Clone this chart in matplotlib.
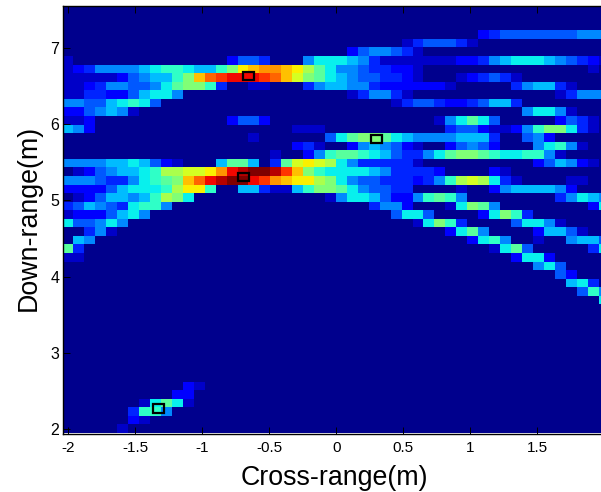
import numpy as np
import matplotlib
matplotlib.use("Agg")
import matplotlib.pyplot as plt
from matplotlib.patches import Rectangle

plt.rcParams['font.family'] = ['Liberation Sans', 'DejaVu Sans']

n_cols = 50
n_rows = 50
cross_range = np.linspace(-2, 2, n_cols)
down_range = np.linspace(7.5, 2, n_rows)

# Intensity levels, base-36 digits 0..k (k = peak).
# Each row (counted from the top): {first column: levels}
intensity_rows = {
    3: {38: "234444444555"},
    4: {31: "1344431"},
    5: {26: "2455431"},
    6: {0: "1", 15: "2443", 22: "5777653111111122356777654321"},
    7: {0: "123555567887668adeffedb9755433221", 48: "1"},
    8: {0: "11111245668aeghiiihgeca976544" "3321", 36: "123431"},
    9: {0: "1123554457" "9aa83" "0011", 22: "3566553222222" "1", 41: "356631"},
    10: {0: "11332246775", 26: "135531", 45: "13555"},
    11: {0: "554467874", 30: "134432234663"},
    12: {0: "2245651", 42: "57751"},
    13: {0: "112", 15: "2442", 34: "157974", 45: "2431"},
    14: {0: "652", 21: "111", 35: "3442112" "58aa731"},
    15: {17: "1", 24: "479aa97" "65555666" "3" "00" "452"},
    16: {21: "231", 26: "2565421", 35: "24542", 43: "57851"},
    17: {19: "1", 22: "258" "998764335" "79aa98778851"},
    18: {0: "55556676421", 14: "6996", 19: "39cdcb", 25: "75333331", 43: "246521"},
    19: {0: "0124566" "78bbccdf" "ijkkjhea87" "7776533332", 39: "21"},
    20: {0: "5554335" "789ae" "gijkk" "ihfeddba" "75443332" "358bcb731", 46: "11"},
    21: {0: "2222467778bdd8" "00663116" "8aa97" "54433", 36: "1", 39: "25666652"},
    22: {0: "012466568ba7", 24: "1577642258985", 45: "35765"},
    23: {0: "3465437885", 28: "3552", 35: "17a95", 48: "27"},
    24: {0: "12224675", 30: "4774", 38: "27a83"},
    25: {0: "744575", 32: "17a83", 41: "47751"},
    26: {2: "351", 35: "2795", 43: "26641"},
    27: {1: "65", 37: "2785", 43: "1", 46: "5664"},
    28: {0: "93", 39: "1794", 48: "37"},
    29: {0: "11", 41: "2772"},
    30: {43: "574"},
    31: {45: "42"},
    32: {46: "673"},
    33: {47: "485"},
    34: {49: "7"},
    44: {11: "21"},
    45: {10: "22"},
    46: {7: "17971"},
    47: {6: "3885"},
    48: {6: "21"},
    49: {5: "1"},
}

# Detected targets (cross-range, down-range)
target_x = [-0.652, -0.69, 0.304, -1.325]
target_y = [6.634, 5.307, 5.806, 2.27]

x_ticks = [-2, -1.5, -1, -0.5, 0, 0.5, 1, 1.5, 2]
x_tick_labels = ["-2", "-1.5", "-1", "-0.5", "0", "0.5", "1", "1.5", "2"]
y_ticks = [2, 3, 4, 5, 6, 7]
y_tick_labels = ["2", "3", "4", "5", "6", "7"]

intensity = np.zeros((n_rows, n_cols))
for row, segments in intensity_rows.items():
    for start, levels in segments.items():
        for k, ch in enumerate(levels):
            intensity[row, start + k] = int(ch, 36)

W, H = 601, 492
fig = plt.figure(figsize=(W / 100, H / 100), dpi=100)
left, right, top, bottom = 63.3, 608.0, 6.0, 434.0
ax = fig.add_axes([left / W, 1 - bottom / H, (right - left) / W, (bottom - top) / H])

dx = cross_range[1] - cross_range[0]
dy = down_range[0] - down_range[1]
ax.imshow(intensity, cmap="jet", vmin=-0.3, vmax=20, aspect="auto",
          interpolation="nearest", origin="upper",
          extent=[cross_range[0] - dx / 2, cross_range[-1] + dx / 2,
                  down_range[-1] - dy / 2, down_range[0] + dy / 2])
for tx, ty in zip(target_x, target_y):
    ax.add_patch(Rectangle((tx - 0.041, ty - 0.055), 0.082, 0.11, fill=False,
                           edgecolor="black", linewidth=1.6, zorder=3))

ax.set_xlim(-2 - 5.0 / 134, 2 + 4.0 / 134)
ax.set_ylim(2 - 5 / 76.2, 2 + 423 / 76.2)
ax.set_xticks(x_ticks)
ax.set_xticklabels(x_tick_labels, fontsize=11)
ax.set_yticks(y_ticks)
ax.set_yticklabels(y_tick_labels, fontsize=11.5)
ax.tick_params(direction="in", top=True, right=True, length=5, width=0.7, pad=3)
ax.tick_params(axis="x", pad=5)
for s in ax.spines.values():
    s.set_linewidth(1.0)
fig.text(334 / W, 1 - 485 / H, "Cross-range(m)", fontsize=19.3, ha="center", va="baseline")
fig.text(36 / W, 1 - 218 / H, "Down-range(m)", fontsize=19.3, ha="center", va="baseline",
         rotation=90, rotation_mode="anchor")

fig.savefig("out.png", dpi=100)
